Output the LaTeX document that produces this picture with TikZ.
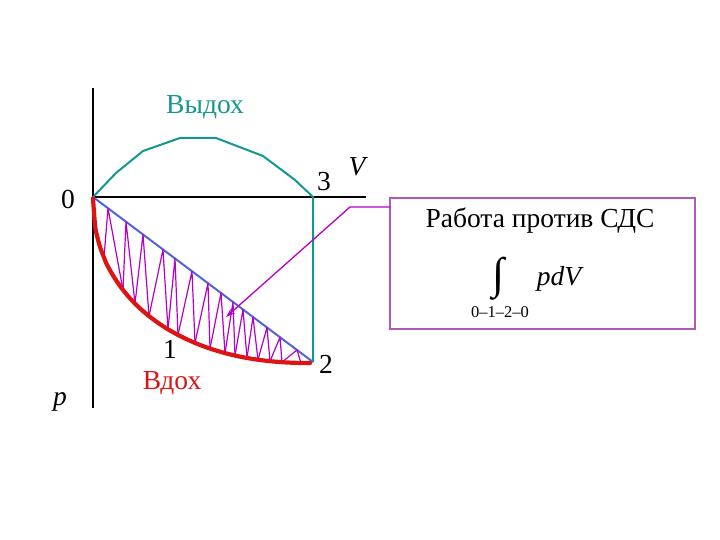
\documentclass[tikz,border=0pt]{standalone}
\usepackage{fontspec}
\setmainfont{Liberation Serif}
\usetikzlibrary{arrows.meta}
\definecolor{tealc}{RGB}{20,150,145}
\definecolor{redc}{RGB}{220,20,20}
\definecolor{bluec}{RGB}{80,100,215}
\definecolor{purc}{RGB}{180,0,200}
\definecolor{boxc}{RGB}{175,90,185}
\pgfmathdeclarefunction{yred}{1}{\pgfmathparse{197+166*(max(0.00001,1-((310-#1)/217)^2.2))^(1/2.2)}}
\pgfmathdeclarefunction{yblue}{1}{\pgfmathparse{197+(#1-93)/220*165}}
\tikzset{
  axis/.style={line width=2.4pt, black},
  lbl/.style={font=\fontsize{27.5}{27.5}\selectfont, inner sep=0pt},
  ilbl/.style={font=\fontsize{27.5}{27.5}\selectfont\itshape, inner sep=0pt},
  zig/.style={purc, line width=1.2pt},
}
\begin{document}
\begin{tikzpicture}[x=1pt,y=-1pt]
\useasboundingbox (0,0) rectangle (720,540);
% axes
\coordinate (O) at (93,197);
\coordinate (ptop) at (93,88);
\coordinate (pbot) at (93,408);
\coordinate (vend) at (366,197);
\draw[axis] (ptop) -- (pbot);
\draw[axis] (O) -- (vend);
% exhalation curve
\coordinate (c3) at (313,197);
\coordinate (c2) at (313,362);
\draw[tealc, line width=2pt, line join=round] (O) -- (116,173) -- (143,151) -- (180,138) -- (216,138) -- (263,156) -- (295,180) -- (c3) -- (c2);
% blue chord
\draw[bluec, line width=2pt] (O) -- (c2);
% zigzag hatching
\foreach \ra/\b/\rb in {104/108/123, 123/126/135, 135/143/149, 149/163/168, 168/175/178, 178/192/195, 195/208/210, 210/221/225, 225/233/235, 235/243/247, 247/253/258, 258/267/270, 270/280/282, 282/297/301}{
  \pgfmathsetmacro\ya{yred(\ra)}
  \pgfmathsetmacro\yb{yblue(\b)}
  \pgfmathsetmacro\yc{yred(\rb)}
  \draw[zig, line join=round] (\ra,\ya) -- (\b,\yb) -- (\rb,\yc);
}
% inhalation curve
\draw[redc, line width=4.2pt, line cap=round] plot[domain=93:310, samples=100, smooth] (\x, {yred(\x)});
% box
\node[draw=boxc, line width=1.6pt, minimum width=305pt, minimum height=131pt, inner sep=0pt] (box) at (542.5,263.5) {};
\node[lbl] (title) at (540,221) {Работа против СДС};
\node[inner sep=0pt, font=\fontsize{44}{44}\selectfont] (intg) at (499,279) {∫};
\node[ilbl] (pdv) at (559,279) {pdV};
\node[inner sep=0pt, font=\fontsize{16.5}{16.5}\selectfont] (lim) at (500,312) {0–1–2–0};
% arrow
\coordinate (b1) at (390,207);
\coordinate (b2) at (350,207);
\coordinate (tip) at (226,317);
\draw[purc, line width=1.3pt, -{Stealth[length=9pt,width=6pt]}] (b1) -- (b2) -- (tip);
% labels
\node[lbl] (l0) at (68,199) {0};
\node[lbl] (l3) at (324,182) {3};
\node[ilbl] (lV) at (357,167) {V};
\node[lbl] (l1) at (170,349) {1};
\node[lbl] (l2) at (326,364) {2};
\node[ilbl] (lp) at (60,402) {p};
\node[lbl, text=tealc] (vyd) at (205,107) {Выдох};
\node[lbl, text=redc] (vd) at (172,383) {Вдох};
\end{tikzpicture}
\end{document}
